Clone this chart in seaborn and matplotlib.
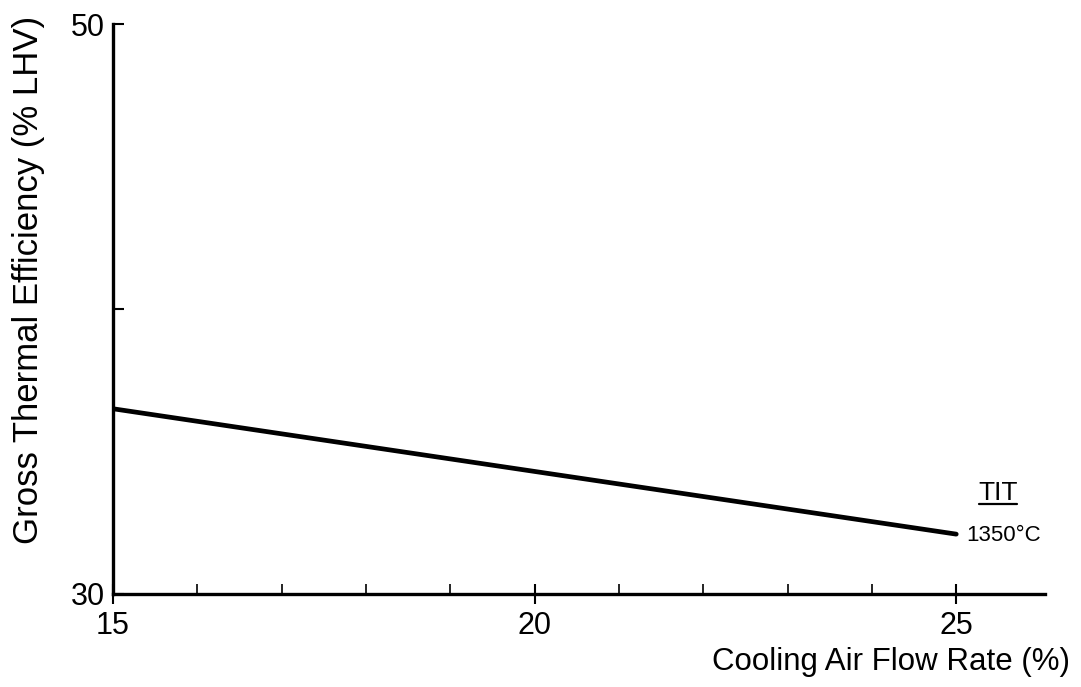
import matplotlib
matplotlib.use("Agg")
import matplotlib.pyplot as plt
import seaborn as sns
import pandas as pd
from matplotlib.ticker import FixedLocator, NullFormatter

# Data
cooling_air = [15, 20, 25]
efficiency_1350 = [36.5, 34.3, 32.1]
series_label = "1350°C"
legend_title = "TIT"
x_major = [15, 20, 25]
x_minor = [16, 17, 18, 19, 21, 22, 23, 24]
y_ticks = [30, 40, 50]
y_ticklabels = ["30", "", "50"]

sns.set_theme(style="white")
plt.rcParams['font.family'] = ['Liberation Sans', 'DejaVu Sans']
plt.rcParams['text.color'] = 'black'
plt.rcParams['xtick.color'] = 'black'
plt.rcParams['ytick.color'] = 'black'

df = pd.DataFrame({"x": cooling_air, "y": efficiency_1350})

fig = plt.figure(figsize=(10.81, 6.87), dpi=100)
ax = fig.add_axes([0.1045, 0.1354, 0.862, 0.8296])
sns.lineplot(data=df, x="x", y="y", ax=ax, color="black", linewidth=3.4)

ax.set_xlim(15, 26.05)
ax.set_ylim(30, 50)

for s in ["top", "right"]:
    ax.spines[s].set_visible(False)
for s in ["left", "bottom"]:
    ax.spines[s].set_color("black")
    ax.spines[s].set_linewidth(2.4)

ax.set_xticks(x_major)
ax.set_xticklabels([str(v) for v in x_major], fontsize=22)
ax.xaxis.set_minor_locator(FixedLocator(x_minor))
ax.xaxis.set_minor_formatter(NullFormatter())
ax.tick_params(axis="x", which="major", direction="inout", length=14, width=1.5,
               color="black", pad=5, bottom=True)
ax.tick_params(axis="x", which="minor", direction="in", length=7, width=1.2,
               color="black", bottom=True)

ax.set_yticks(y_ticks)
ax.set_yticklabels(y_ticklabels, fontsize=22)
ax.tick_params(axis="y", which="major", direction="in", length=8, width=1.5,
               color="black", pad=6, left=True)

ax.set_xlabel("")
ax.set_ylabel("")
fig.text(0.990, 0.025, "Cooling Air Flow Rate (%)", ha="right", va="baseline", fontsize=22.5)
fig.text(0.026, 0.592, "Gross Thermal Efficiency (% LHV)", ha="center", va="center",
         rotation=90, fontsize=25)

ax.annotate(series_label, xy=(cooling_air[-1], efficiency_1350[-1]),
            xytext=(7, -1), textcoords="offset points", ha="left", va="center", fontsize=16)
ax.text(0.9497, 0.177, legend_title, transform=ax.transAxes, ha="center", va="center",
        fontsize=19)
# underline for TIT
ax.plot([0.929, 0.970], [0.158, 0.158], transform=ax.transAxes, color="black", lw=1.6,
        clip_on=False)

fig.savefig("out.png", dpi=100, facecolor="white")
